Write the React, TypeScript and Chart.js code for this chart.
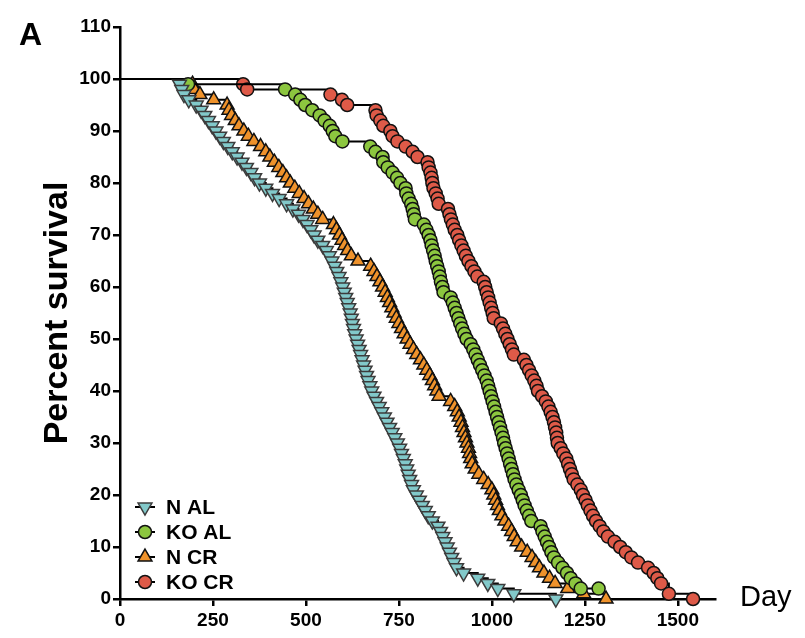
import React, { useEffect, useRef } from 'react';
import { Chart, registerables } from 'chart.js';

Chart.register(...registerables);

const seriesLabels = ['N AL', 'KO AL', 'N CR', 'KO CR'];

const nAlDays = [0, 160, 166, 172, 185, 205, 218, 228, 238, 248, 258, 268, 278, 290, 302, 315, 328, 340, 352, 362, 375, 392, 410, 428, 448, 465, 480, 492, 503, 513, 522, 532, 545, 555, 563, 570, 577, 583, 589, 594, 599, 603, 607, 611, 615, 619, 622, 625, 628, 631, 635, 639, 643, 647, 651, 655, 659, 663, 667, 672, 677, 683, 690, 697, 704, 711, 718, 725, 732, 739, 746, 752, 757, 762, 767, 771, 775, 779, 784, 789, 797, 805, 813, 821, 829, 840, 855, 862, 868, 874, 880, 886, 892, 898, 905, 924, 962, 989, 1016, 1059, 1172];
const nAlPct = [100, 99, 98, 97, 96, 95, 94, 93, 92, 91, 90, 89, 88, 87, 86, 85, 84, 83, 82, 81, 80, 79, 78, 77, 76, 75, 74, 73, 72, 71, 70, 69, 68, 67, 66, 65, 64, 63, 62, 61, 60, 59, 58, 57, 56, 55, 54, 53, 52, 51, 50, 49, 48, 47, 46, 45, 44, 43, 42, 41, 40, 39, 38, 37, 36, 35, 34, 33, 32, 31, 30, 29, 28, 27, 26, 25, 24, 23, 22, 21, 20, 19, 18, 17, 16, 15, 14, 13, 12, 11, 10, 9, 8, 7, 6, 5, 4, 3, 2, 1, 0];

const koAlDays = [0, 183, 444, 471, 485, 498, 517, 537, 550, 564, 572, 579, 598, 673, 687, 706, 708, 720, 733, 745, 754, 768, 770, 776, 783, 787, 790, 793, 817, 824, 830, 835, 838, 842, 846, 849, 853, 857, 860, 863, 867, 870, 889, 895, 900, 905, 910, 915, 920, 926, 932, 943, 950, 956, 962, 968, 974, 980, 986, 990, 994, 998, 1002, 1006, 1010, 1014, 1018, 1022, 1026, 1030, 1033, 1037, 1041, 1045, 1049, 1053, 1057, 1061, 1066, 1072, 1078, 1083, 1088, 1094, 1100, 1106, 1131, 1136, 1142, 1148, 1154, 1160, 1167, 1178, 1190, 1202, 1212, 1225, 1239, 1287];
const koAlPct = [100, 99, 98, 97, 96, 95, 94, 93, 92, 91, 90, 89, 88, 87, 86, 85, 84, 83, 82, 81, 80, 79, 78, 77, 76, 75, 74, 73, 72, 71, 70, 69, 68, 67, 66, 65, 64, 63, 62, 61, 60, 59, 58, 57, 56, 55, 54, 53, 52, 51, 50, 49, 48, 47, 46, 45, 44, 43, 42, 41, 40, 39, 38, 37, 36, 35, 34, 33, 32, 31, 30, 29, 28, 27, 26, 25, 24, 23, 22, 21, 20, 19, 18, 17, 16, 15, 14, 13, 12, 11, 10, 9, 8, 7, 6, 5, 4, 3, 2, 2];

const nCrDays = [0, 195, 200, 215, 252, 288, 293, 300, 310, 320, 333, 345, 360, 378, 392, 403, 415, 427, 438, 448, 458, 470, 482, 495, 507, 520, 532, 545, 574, 582, 590, 597, 604, 612, 622, 640, 674, 683, 691, 699, 706, 713, 719, 725, 731, 737, 743, 750, 757, 764, 772, 780, 789, 798, 808, 817, 825, 833, 840, 846, 852, 858, 889, 900, 907, 912, 917, 921, 925, 929, 933, 937, 940, 943, 947, 955, 965, 978, 990, 1000, 1005, 1010, 1015, 1020, 1027, 1035, 1045, 1053, 1060, 1068, 1080, 1095, 1108, 1118, 1128, 1140, 1155, 1170, 1204, 1247, 1307];
const nCrPct = [100, 99, 98, 97, 96, 95, 94, 93, 92, 91, 90, 89, 88, 87, 86, 85, 84, 83, 82, 81, 80, 79, 78, 77, 76, 75, 74, 73, 72, 71, 70, 69, 68, 67, 66, 65, 64, 63, 62, 61, 60, 59, 58, 57, 56, 55, 54, 53, 52, 51, 50, 49, 48, 47, 46, 45, 44, 43, 42, 41, 40, 39, 38, 37, 36, 35, 34, 33, 32, 31, 30, 29, 28, 27, 26, 25, 24, 23, 22, 21, 20, 19, 18, 17, 16, 15, 14, 13, 12, 11, 10, 9, 8, 7, 6, 5, 4, 3, 2, 1, 0];

const koCrDays = [0, 331, 342, 566, 597, 611, 687, 690, 700, 708, 727, 733, 746, 768, 787, 800, 827, 830, 835, 838, 840, 843, 849, 854, 857, 882, 886, 890, 895, 900, 907, 912, 918, 924, 930, 937, 945, 953, 961, 978, 982, 986, 990, 994, 998, 1002, 1005, 1024, 1030, 1036, 1042, 1048, 1054, 1059, 1086, 1093, 1100, 1107, 1114, 1120, 1124, 1135, 1145, 1152, 1158, 1163, 1167, 1170, 1173, 1175, 1177, 1185, 1192, 1200, 1205, 1210, 1215, 1220, 1230, 1239, 1245, 1252, 1258, 1265, 1272, 1280, 1290, 1300, 1312, 1330, 1345, 1360, 1375, 1393, 1420, 1435, 1445, 1455, 1476, 1541];
const koCrPct = [100, 99, 98, 97, 96, 95, 94, 93, 92, 91, 90, 89, 88, 87, 86, 85, 84, 83, 82, 81, 80, 79, 78, 77, 76, 75, 74, 73, 72, 71, 70, 69, 68, 67, 66, 65, 64, 63, 62, 61, 60, 59, 58, 57, 56, 55, 54, 53, 52, 51, 50, 49, 48, 47, 46, 45, 44, 43, 42, 41, 40, 39, 38, 37, 36, 35, 34, 33, 32, 31, 30, 29, 28, 27, 26, 25, 24, 23, 22, 21, 20, 19, 18, 17, 16, 15, 14, 13, 12, 11, 10, 9, 8, 7, 6, 5, 4, 3, 1, 0];

const xTickValues = [0, 250, 500, 750, 1000, 1250, 1500];
const yTickValues = [0, 10, 20, 30, 40, 50, 60, 70, 80, 90, 100, 110];

const seriesDays = [nAlDays, koAlDays, nCrDays, koCrDays];
const seriesPct = [nAlPct, koAlPct, nCrPct, koCrPct];
const seriesFill = ['#82C9CA', '#8CC63F', '#EF922B', '#DE5A48'];
const seriesEdge = ['#3c3c3c', '#111111', '#111111', '#111111'];
const seriesShape = ['triangle', 'circle', 'triangle', 'circle'];
const seriesRot = [180, 0, 0, 0];
const seriesRadius = [8, 6.5, 8, 6.5];

const FONT = '"Liberation Sans", Arial, Helvetica, sans-serif';

function drawMarker(ctx: CanvasRenderingContext2D, shape: string, rot: number, r: number, x: number, y: number, fill: string, edge: string) {
  ctx.save();
  ctx.beginPath();
  if (shape === 'circle') {
    ctx.arc(x, y, r, 0, Math.PI * 2);
  } else {
    let rad = (rot * Math.PI) / 180;
    for (let k = 0; k < 3; k++) {
      const px = x + Math.sin(rad) * r;
      const py = y - Math.cos(rad) * r;
      if (k === 0) ctx.moveTo(px, py);
      else ctx.lineTo(px, py);
      rad += (2 * Math.PI) / 3;
    }
    ctx.closePath();
  }
  ctx.fillStyle = fill;
  ctx.fill();
  ctx.lineWidth = 1.5;
  ctx.strokeStyle = edge;
  ctx.stroke();
  ctx.restore();
}

const overlayPlugin = {
  id: 'overlayText',
  afterDraw(chart: any) {
    const ctx: CanvasRenderingContext2D = chart.ctx;
    const area = chart.chartArea;
    ctx.save();
    // legend
    const top = area.bottom - 92;
    chart.data.datasets.forEach((ds: any, i: number) => {
      const cy = top + i * 25;
      const cx = area.left + 25;
      ctx.strokeStyle = '#000';
      ctx.lineWidth = 2;
      ctx.beginPath();
      ctx.moveTo(cx - 10, cy);
      ctx.lineTo(cx + 10, cy);
      ctx.stroke();
      drawMarker(ctx, seriesShape[i], seriesRot[i], seriesRadius[i], cx, cy, seriesFill[i], seriesEdge[i]);
      ctx.fillStyle = '#000';
      ctx.font = `bold 21px ${FONT}`;
      ctx.textAlign = 'left';
      ctx.textBaseline = 'middle';
      ctx.fillText(ds.label, cx + 21, cy + 1);
    });
    // panel letter
    ctx.font = `bold 32px ${FONT}`;
    ctx.textBaseline = 'alphabetic';
    ctx.fillText('A', 19, 45);
    // x axis title
    ctx.font = `29px ${FONT}`;
    ctx.fillText('Day', area.right + 25, area.bottom + 7);
    ctx.restore();
  },
};

export default function App() {
  const ref = useRef<HTMLCanvasElement | null>(null);

  useEffect(() => {
    if (!ref.current) return;
    const datasets = seriesLabels.map((label, i) => ({
      label,
      data: seriesDays[i].map((d, j) => ({ x: d, y: seriesPct[i][j] })),
      showLine: true,
      stepped: 'before' as const,
      borderColor: '#000',
      borderWidth: 2,
      backgroundColor: seriesFill[i],
      pointBackgroundColor: seriesFill[i],
      pointBorderColor: seriesEdge[i],
      pointBorderWidth: 1.5,
      pointStyle: seriesShape[i],
      pointRotation: seriesRot[i],
      pointRadius: (c: any) => (c.dataIndex === 0 ? 0 : seriesRadius[i]),
      pointHoverRadius: (c: any) => (c.dataIndex === 0 ? 0 : seriesRadius[i]),
      clip: false as const,
    }));

    const chart = new Chart(ref.current, {
      type: 'scatter',
      data: { datasets },
      plugins: [overlayPlugin],
      options: {
        responsive: false,
        animation: false,
        events: [],
        layout: { padding: { top: 27, right: 90, bottom: 0, left: 0 } },
        plugins: {
          legend: { display: false },
          tooltip: { enabled: false },
        },
        scales: {
          x: {
            type: 'linear',
            min: 0,
            max: 1600,
            afterBuildTicks: (s: any) => {
              s.ticks = xTickValues.map((v) => ({ value: v }));
            },
            afterFit: (s: any) => {
              s.height = 39;
            },
            ticks: {
              color: '#000',
              padding: 3,
              maxRotation: 0,
              autoSkip: false,
              callback: (v: any) => String(v),
              font: { family: FONT, weight: 'bold', size: 19 },
            },
            grid: {
              drawOnChartArea: false,
              drawTicks: true,
              tickLength: 7,
              lineWidth: 2.5,
              color: '#000',
            },
            border: { display: true, color: '#000', width: 2.5 },
          },
          y: {
            type: 'linear',
            min: 0,
            max: 110,
            afterBuildTicks: (s: any) => {
              s.ticks = yTickValues.map((v) => ({ value: v }));
            },
            afterFit: (s: any) => {
              s.width = 120;
            },
            ticks: {
              color: '#000',
              padding: 2,
              autoSkip: false,
              callback: (v: any) => String(v),
              font: { family: FONT, weight: 'bold', size: 19 },
            },
            grid: {
              drawOnChartArea: false,
              drawTicks: true,
              tickLength: 7,
              lineWidth: 2.5,
              color: '#000',
            },
            border: { display: true, color: '#000', width: 2.5 },
            title: {
              display: true,
              text: 'Percent survival',
              color: '#000',
              font: { family: FONT, weight: 'bold', size: 34 },
              padding: { top: 37, bottom: 0 },
            },
          },
        },
      },
    });
    return () => chart.destroy();
  }, []);

  return (
    <div style={{ position: 'absolute', left: 0, top: 0, width: 805, height: 638, background: '#fff' }}>
      <canvas ref={ref} width={805} height={638} style={{ width: 805, height: 638, display: 'block' }} />
    </div>
  );
}
